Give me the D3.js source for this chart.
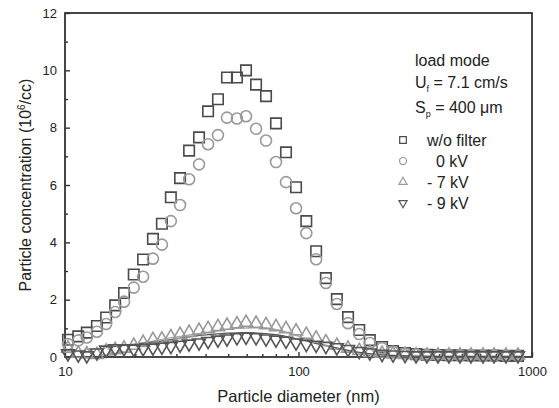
<!DOCTYPE html>
<html>
<head>
<meta charset="utf-8">
<script src="https://cdn.jsdelivr.net/npm/d3@7"></script>
<style>
  body { margin: 0; background: #fff; }
  text { font-family: "Liberation Sans", Arial, sans-serif; fill: #222; }
</style>
</head>
<body>
<div id="chart"></div>
<script>
// particle diameters, nm
var diameters = [10.3, 11.4, 12.4, 13.7, 15.0, 16.4, 17.9, 19.7, 21.6, 23.8,
  26.0, 28.4, 31.1, 34.0, 37.5, 41.0, 45.2, 49.4, 54.5, 59.6,
  65.8, 72.6, 80.1, 88.4, 97.6, 108, 119, 131, 146, 163,
  182, 202, 228, 254, 286, 319, 355, 396, 441, 492,
  548, 617, 688, 774, 871];

// concentrations, 10^6/cc
var woFilter = [0.6, 0.72, 0.85, 1.08, 1.38, 1.8, 2.23, 2.88, 3.4, 4.12,
  4.65, 5.57, 6.24, 7.2, 7.66, 8.57, 8.99, 9.75, 9.75, 10.0,
  9.5, 9.1, 8.15, 7.14, 5.92, 4.74, 3.69, 2.75, 2.02, 1.39,
  0.94, 0.59, 0.35, 0.21, 0.14, 0.1, 0.08, 0.07, 0.06, 0.06,
  0.05, 0.05, 0.05, 0.04, 0.04];
var kv0 = [0.45, 0.58, 0.68, 0.88, 1.15, 1.57, 1.93, 2.42, 2.8, 3.43,
  3.92, 4.74, 5.3, 6.2, 6.72, 7.42, 7.74, 8.35, 8.32, 8.4,
  7.96, 7.55, 6.8, 6.1, 5.19, 4.32, 3.41, 2.58, 1.85, 1.18,
  0.8, 0.49, 0.31, 0.18, 0.12, 0.09, 0.07, 0.06, 0.05, 0.05,
  0.05, 0.04, 0.04, 0.04, 0.04];
var kv7 = [0.3, 0.12, 0.1, 0.08, 0.2, 0.25, 0.3, 0.4, 0.5, 0.6,
  0.62, 0.7, 0.78, 0.85, 0.92, 0.98, 1.05, 1.1, 1.15, 1.2,
  1.17, 1.12, 1.05, 0.98, 0.9, 0.78, 0.65, 0.52, 0.4, 0.3,
  0.22, 0.15, 0.12, 0.1, 0.08, 0.07, 0.06, 0.06, 0.06, 0.06,
  0.06, 0.06, 0.06, 0.06, 0.06];
var kv9 = [0.12, 0.08, 0.05, 0.15, 0.25, 0.3, 0.3, 0.28, 0.3, 0.32,
  0.35, 0.38, 0.42, 0.46, 0.5, 0.55, 0.6, 0.64, 0.68, 0.7,
  0.68, 0.64, 0.6, 0.56, 0.5, 0.45, 0.42, 0.38, 0.33, 0.27,
  0.2, 0.15, 0.1, 0.08, 0.06, 0.05, 0.05, 0.05, 0.05, 0.05,
  0.05, 0.05, 0.05, 0.05, 0.05];

// smoothed curves drawn under the -7 kV and -9 kV points
var fit7D = [12, 20, 30, 40, 55, 70, 90, 110, 140, 180, 250, 400, 900];
var fit7V = [0.25, 0.45, 0.7, 0.85, 1.0, 1.02, 0.85, 0.6, 0.35, 0.15, 0.05, 0.02, 0.02];
var fit9D = [15, 24, 40, 60, 80, 100, 130, 170, 250, 400, 900];
var fit9V = [0.35, 0.52, 0.77, 0.85, 0.78, 0.62, 0.4, 0.2, 0.06, 0.02, 0.02];

var xMajor = [10, 100, 1000];
var xMinor = [20, 30, 40, 50, 60, 70, 80, 90, 200, 300, 400, 500, 600, 700, 800, 900];
var yMajor = [0, 2, 4, 6, 8, 10, 12];
var yMinor = [1, 3, 5, 7, 9, 11];

var seriesNames = ["w/o filter", "  0 kV", "- 7 kV", "- 9 kV"];

(function () {
    var W = 559, H = 408;
    var mLeft = 65, mRight = 532, mTop = 13, mBottom = 357;

    var svg = d3.select("#chart").append("svg")
        .attr("width", W)
        .attr("height", H);

    var x = d3.scaleLog().domain([10, 1000]).range([mLeft, mRight]);
    var y = d3.scaleLinear().domain([0, 12]).range([mBottom, mTop]);

    // frame
    svg.append("rect")
        .attr("x", mLeft).attr("y", mTop)
        .attr("width", mRight - mLeft).attr("height", mBottom - mTop)
        .attr("fill", "none").attr("stroke", "#333").attr("stroke-width", 1.8);

    // ticks (inward)
    var gx = svg.append("g").attr("transform", "translate(0," + mBottom + ")")
        .call(d3.axisBottom(x).tickValues(xMajor).tickSize(-5).tickFormat(d3.format("d")).tickPadding(10));
    gx.select(".domain").remove();
    gx.selectAll(".tick line").attr("stroke", "#333").attr("stroke-width", 1.4);
    gx.selectAll("text").attr("font-size", 13).attr("fill", "#222");
    svg.append("g").attr("transform", "translate(0," + mBottom + ")")
        .call(d3.axisBottom(x).tickValues(xMinor).tickSize(-3).tickFormat(""))
        .call(function (g) { g.select(".domain").remove(); })
        .selectAll(".tick line").attr("stroke", "#333").attr("stroke-width", 1.4);

    var gy = svg.append("g").attr("transform", "translate(" + mLeft + ",0)")
        .call(d3.axisLeft(y).tickValues(yMajor).tickSize(-5).tickPadding(8));
    gy.select(".domain").remove();
    gy.selectAll(".tick line").attr("stroke", "#333").attr("stroke-width", 1.4);
    gy.selectAll("text").attr("font-size", 13).attr("fill", "#222");
    svg.append("g").attr("transform", "translate(" + mLeft + ",0)")
        .call(d3.axisLeft(y).tickValues(yMinor).tickSize(-3).tickFormat(""))
        .call(function (g) { g.select(".domain").remove(); })
        .selectAll(".tick line").attr("stroke", "#333").attr("stroke-width", 1.4);

    // curves
    var line = d3.line().x(function (d) { return x(d[0]); }).y(function (d) { return y(d[1]); })
        .curve(d3.curveMonotoneX);
    svg.append("path").datum(d3.zip(fit7D, fit7V))
        .attr("d", line).attr("fill", "none").attr("stroke", "#aaa").attr("stroke-width", 1.4);
    svg.append("path").datum(d3.zip(fit9D, fit9V))
        .attr("d", line).attr("fill", "none").attr("stroke", "#555").attr("stroke-width", 1.2);

    // markers
    var series = [
        { values: woFilter, type: d3.symbolSquare, size: 110, color: "#4a4a4a", rot: 0 },
        { values: kv0, type: d3.symbolCircle, size: 95, color: "#999", rot: 0 },
        { values: kv7, type: d3.symbolTriangle, size: 72, color: "#999", rot: 0 },
        { values: kv9, type: d3.symbolTriangle, size: 72, color: "#555", rot: 180 }
    ];

    series.forEach(function (s) {
        svg.append("g").selectAll("path")
            .data(d3.zip(diameters, s.values))
            .join("path")
            .attr("d", d3.symbol().type(s.type).size(s.size))
            .attr("transform", function (d) {
                return "translate(" + x(d[0]) + "," + y(d[1]) + ") rotate(" + s.rot + ")";
            })
            .attr("fill", "none")
            .attr("stroke", s.color)
            .attr("stroke-width", 1.6);
    });

    // axis titles
    svg.append("text")
        .attr("x", (mLeft + mRight) / 2).attr("y", 402)
        .attr("text-anchor", "middle").attr("font-size", 16.5)
        .text("Particle diameter (nm)");

    var yt = svg.append("text")
        .attr("transform", "translate(31," + ((mTop + mBottom) / 2) + ") rotate(-90)")
        .attr("text-anchor", "middle").attr("font-size", 16);
    yt.append("tspan").text("Particle concentration (10");
    yt.append("tspan").attr("font-size", 10).attr("dy", -6).text("6");
    yt.append("tspan").attr("dy", 6).text("/cc)");

    // annotation
    var ax = 415;
    svg.append("text").attr("x", ax).attr("y", 66).attr("font-size", 16).text("load mode");
    var u = svg.append("text").attr("x", ax).attr("y", 88).attr("font-size", 16);
    u.append("tspan").text("U");
    u.append("tspan").attr("font-size", 9).attr("dy", 4).text("f");
    u.append("tspan").attr("dy", -4).text(" = 7.1 cm/s");
    var sp = svg.append("text").attr("x", ax).attr("y", 113).attr("font-size", 16);
    sp.append("tspan").text("S");
    sp.append("tspan").attr("font-size", 9).attr("dy", 4).text("p");
    sp.append("tspan").attr("dy", -4).text(" = 400 \u03bcm");

    // legend
    var legY = [140, 161, 182, 203];
    series.forEach(function (s, i) {
        svg.append("path")
            .attr("d", d3.symbol().type(s.type).size(s.size * 0.4))
            .attr("transform", "translate(403," + legY[i] + ") rotate(" + s.rot + ")")
            .attr("fill", "none").attr("stroke", s.color).attr("stroke-width", 1.2);
        svg.append("text")
            .attr("x", 427).attr("y", legY[i] + 6)
            .attr("font-size", 16)
            .style("white-space", "pre")
            .text(seriesNames[i]);
    });
}());
</script>
</body>
</html>
